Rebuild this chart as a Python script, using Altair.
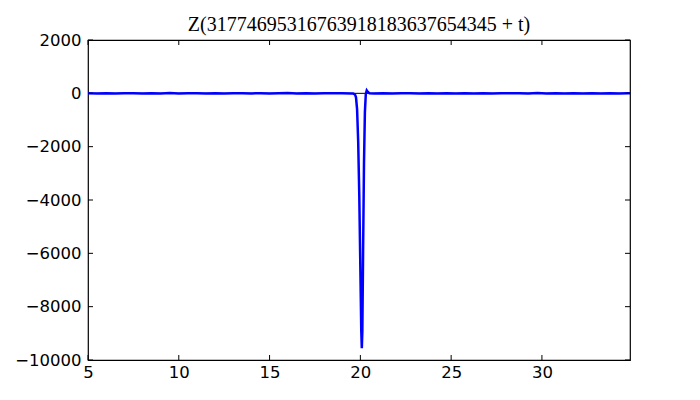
import altair as alt
import pandas as pd

# ---- data ----
t_left = [5.0, 5.5, 6.0, 6.5, 7.0, 7.5, 8.0, 8.5, 9.0, 9.5, 10.0, 10.5, 11.0, 11.5, 12.0,
          12.5, 13.0, 13.5, 14.0, 14.5, 15.0, 15.5, 16.0, 16.5, 17.0, 17.5, 18.0, 18.5, 19.0, 19.5]
z_left = [5, -3, 6, -7, 2, 6, -5, 3, -2, 8, -6, 1, 4, -3, 6,
          -7, 2, 5, -2, 7, -4, 1, 8, -5, 3, -6, 5, -1, 4, -8]

t_dip = [19.6, 19.7, 19.76, 19.82, 19.88, 19.94, 20.0, 20.05, 20.08, 20.11, 20.15,
         20.2, 20.25, 20.3, 20.35, 20.4, 20.5]
z_dip = [-10, -40, -150, -600, -1800, -3800, -6600, -8900, -9560, -8900, -6000,
         -2600, -700, -20, 110, 60, 5]

t_right = [20.75, 21.25, 21.75, 22.25, 22.75, 23.25, 23.75, 24.25, 24.75, 25.25, 25.75,
           26.25, 26.75, 27.25, 27.75, 28.25, 28.75, 29.25, 29.75, 30.25, 30.75, 31.25,
           31.75, 32.25, 32.75, 33.25, 33.75, 34.25, 34.75, 34.85]
z_right = [-3, 5, -6, 2, 7, -4, 2, -5, 4, -2, 6, -4, 3, -7, 5, -1, 3, -6,
           8, -2, 4, -6, 3, -4, 6, -3, 4, -5, 2, 3]

x_ticks = [5, 10, 15, 20, 25, 30]
y_ticks = [-10000, -8000, -6000, -4000, -2000, 0, 2000]
x_domain = [5, 34.85]
y_domain = [-10000, 2000]
title_text = "Z(31774695316763918183637654345 + t)"

# ---- build ----
W, H = 542, 320
TL = 5  # tick length (px)

df = pd.DataFrame({"t": t_left + t_dip + t_right, "z": z_left + z_dip + z_right})
xt = pd.DataFrame({"v": x_ticks})
yt = pd.DataFrame({"v": y_ticks})
zero = pd.DataFrame({"v": [0]})

xs = alt.Scale(domain=x_domain, nice=False, zero=False)
ys = alt.Scale(domain=y_domain, nice=False, zero=False)

font = "DejaVu Sans"
xaxis = alt.Axis(values=x_ticks, format="d", domain=False, ticks=False, grid=False,
                 labelFont=font, labelFontSize=16.5, labelColor="black", labelPadding=4,
                 title=None, labelFlush=False)
yaxis = alt.Axis(values=y_ticks, format="d", domain=False, ticks=False, grid=False,
                 labelFont=font, labelFontSize=16.5, labelColor="black", labelPadding=7,
                 title=None)

line = alt.Chart(df).mark_line(color="#0000ff", strokeWidth=2.5, clip=True).encode(
    x=alt.X("t:Q", scale=xs, axis=xaxis),
    y=alt.Y("z:Q", scale=ys, axis=yaxis),
)

zero_rule = alt.Chart(zero).mark_rule(color="black", strokeWidth=1).encode(
    y=alt.Y("v:Q", scale=ys), x=alt.value(0), x2=alt.value(W)
)

tick_style = dict(color="black", strokeWidth=1)
xt_bottom = alt.Chart(xt).mark_rule(**tick_style).encode(
    x=alt.X("v:Q", scale=xs), y=alt.value(H - TL), y2=alt.value(H))
xt_top = alt.Chart(xt).mark_rule(**tick_style).encode(
    x=alt.X("v:Q", scale=xs), y=alt.value(0), y2=alt.value(TL))
yt_left = alt.Chart(yt).mark_rule(**tick_style).encode(
    y=alt.Y("v:Q", scale=ys), x=alt.value(0), x2=alt.value(TL))
yt_right = alt.Chart(yt).mark_rule(**tick_style).encode(
    y=alt.Y("v:Q", scale=ys), x=alt.value(W - TL), x2=alt.value(W))

chart = alt.layer(zero_rule, line, xt_bottom, xt_top, yt_left, yt_right).properties(
    width=W, height=H,
    title=alt.TitleParams(title_text, font="Liberation Serif", fontSize=20,
                          fontWeight="normal", color="black", offset=-3),
    padding={"left": 80, "top": 32, "right": 62, "bottom": 40},
    autosize="none",
).configure(background="white").configure_view(stroke="black", strokeWidth=1.2)

chart.save("out.html", embed_options={"renderer": "svg", "actions": False})
